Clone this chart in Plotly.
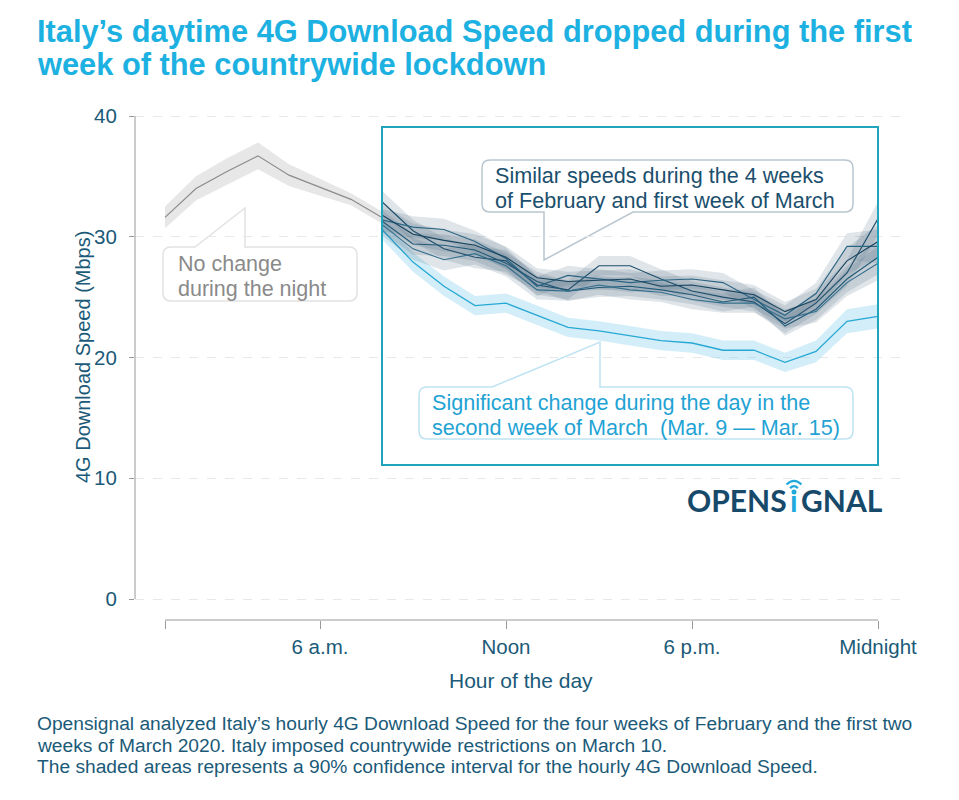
import plotly.graph_objects as go

# ---------------- data ----------------
hours_night = [1, 2, 3, 4, 5, 6, 7, 8]
night_speed = [31.6, 34.0, 35.4, 36.7, 35.1, 34.1, 33.1, 31.6]
night_ci = [0.9, 1.0, 1.1, 1.1, 0.9, 0.7, 0.5, 0.5]

hours_day = list(range(8, 25))
feb_w1 = [32.9, 30.5, 29.0, 28.3, 28.0, 26.0, 25.6, 27.6, 27.6, 26.5, 25.5, 25.0, 24.6, 22.8, 24.5, 27.0, 31.5]
feb_w2 = [31.4, 30.8, 30.6, 29.6, 28.2, 25.9, 26.8, 26.5, 26.2, 26.4, 26.5, 26.2, 24.8, 23.5, 25.3, 29.2, 29.2]
feb_w3 = [31.3, 29.4, 29.3, 28.9, 27.8, 26.3, 25.5, 25.8, 25.9, 25.6, 25.2, 24.6, 25.0, 22.6, 24.0, 26.5, 28.3]
feb_w4 = [31.0, 29.0, 28.1, 28.6, 27.6, 25.6, 25.5, 26.0, 25.6, 25.4, 24.8, 24.5, 24.5, 23.2, 23.8, 26.2, 27.8]
mar_w1 = [31.8, 30.2, 29.7, 29.3, 28.3, 26.6, 26.3, 26.4, 26.5, 25.9, 26.0, 25.6, 25.2, 23.8, 24.8, 28.0, 29.6]
dark_ci = [0.9, 0.9, 0.9, 0.9, 0.9, 0.8, 0.8, 0.8, 0.8, 0.8, 0.8, 0.8, 0.8, 0.8, 0.9, 1.1, 1.4]
mar_w2 = [30.6, 27.9, 25.9, 24.3, 24.5, 23.5, 22.5, 22.2, 21.8, 21.4, 21.2, 20.6, 20.6, 19.6, 20.5, 23.0, 23.4]
mar_w2_ci = [0.8, 0.8, 0.8, 0.8, 0.8, 0.8, 0.8, 0.8, 0.8, 0.8, 0.8, 0.8, 0.8, 0.8, 0.9, 1.0, 1.0]

x_tickvals = [1, 6, 12, 18, 24]
x_ticktext = ["", "6 a.m.", "Noon", "6 p.m.", "Midnight"]
y_tickvals = [0, 10, 20, 30, 40]

title_lines = ["Italy\u2019s daytime 4G Download Speed dropped during the first",
               "week of the countrywide lockdown"]
footer_lines = ["Opensignal analyzed Italy\u2019s hourly 4G Download Speed for the four weeks of February and the first two",
                "weeks of March 2020. Italy imposed countrywide restrictions on March 10.",
                "The shaded areas represents a 90% confidence interval for the hourly 4G Download Speed."]
note_night = ["No change", "during the night"]
note_similar = ["Similar speeds during the 4 weeks", "of February and first week of March"]
note_change = ["Significant change during the day in the", "second week of March  (Mar. 9 \u2014 Mar. 15)"]

# ---------------- styling / geometry ----------------
FONT = "Liberation Sans"
TEAL = "#1b5a78"
CYAN = "#1db1e2"
L, R, T, B = 135, 905, 114, 620
W, H = 959, 800
PX_PER_HR = 31.0
PX_PER_UNIT = 12.075


def X(px):
    return 1 + (px - 165) / PX_PER_HR


def Y(py):
    return (599 - py) / PX_PER_UNIT


def PX(px):  # paper x
    return (px - L) / (R - L)


def PY(py):  # paper y
    return (B - py) / (B - T)


def band(xs, ys, ci):
    up = [y + c for y, c in zip(ys, ci)]
    lo = [y - c for y, c in zip(ys, ci)]
    return xs + xs[::-1], up + lo[::-1]


fig = go.Figure()

# night (gray)
bx, by = band(hours_night, night_speed, night_ci)
fig.add_trace(go.Scatter(x=bx, y=by, fill="toself", mode="none",
                         fillcolor="rgba(160,160,160,0.25)", hoverinfo="skip", showlegend=False))
fig.add_trace(go.Scatter(x=hours_night, y=night_speed, mode="lines",
                         line=dict(color="#8c8c8c", width=1.2), showlegend=False))

# second week of March (light blue)
bx, by = band(hours_day, mar_w2, mar_w2_ci)
fig.add_trace(go.Scatter(x=bx, y=by, fill="toself", mode="none",
                         fillcolor="rgba(130,205,235,0.35)", hoverinfo="skip", showlegend=False))
fig.add_trace(go.Scatter(x=hours_day, y=mar_w2, mode="lines",
                         line=dict(color="#27a8d4", width=1.3), showlegend=False))

# similar weeks (dark)
dark_series = [feb_w1, feb_w2, feb_w3, feb_w4, mar_w1]
dark_colors = ["#1d4e6b", "#2b6584", "#225a78", "#336e8c", "#17435e"]
for s in dark_series:
    bx, by = band(hours_day, s, dark_ci)
    fig.add_trace(go.Scatter(x=bx, y=by, fill="toself", mode="none",
                             fillcolor="rgba(70,100,125,0.17)", hoverinfo="skip", showlegend=False))
for s, c in zip(dark_series, dark_colors):
    fig.add_trace(go.Scatter(x=hours_day, y=s, mode="lines",
                             line=dict(color=c, width=1.1), showlegend=False))


def callout(x0, y0, x1, y1, side, b0, b1, tip, r=8):
    P = lambda px, py: f"{X(px):.4f},{Y(py):.4f}"
    d = f"M{P(x0 + r, y0)}"
    if side == "top":
        d += f" L{P(b0, y0)} L{P(*tip)} L{P(b1, y0)}"
    d += f" L{P(x1 - r, y0)} Q{P(x1, y0)} {P(x1, y0 + r)}"
    d += f" L{P(x1, y1 - r)} Q{P(x1, y1)} {P(x1 - r, y1)}"
    if side == "bottom":
        d += f" L{P(b1, y1)} L{P(*tip)} L{P(b0, y1)}"
    d += f" L{P(x0 + r, y1)} Q{P(x0, y1)} {P(x0, y1 - r)}"
    d += f" L{P(x0, y0 + r)} Q{P(x0, y0)} {P(x0 + r, y0)} Z"
    return d


shapes = []
shapes.append(dict(type="path", xref="x", yref="y", layer="below",
                   path=callout(163, 247, 357, 301, "top", 195, 245, (245, 208)),
                   line=dict(color="#e2e2e2", width=1.5), fillcolor="white"))
shapes.append(dict(type="path", xref="x", yref="y", layer="below",
                   path=callout(482, 160, 853, 212, "bottom", 544, 633, (544, 260)),
                   line=dict(color="#b9c6cf", width=1.5), fillcolor="white"))
shapes.append(dict(type="path", xref="x", yref="y", layer="below",
                   path=callout(419, 387, 853, 439, "top", 492, 600, (600, 342)),
                   line=dict(color="#bfe3f2", width=1.5), fillcolor="white"))
# highlight box
shapes.append(dict(type="rect", xref="x", yref="y", x0=8, x1=24, y0=Y(465), y1=Y(127),
                   line=dict(color="#1ea5bb", width=2), layer="above"))
# axis lines
shapes.append(dict(type="line", xref="x", yref="paper", x0=1, x1=24, y0=0, y1=0,
                   line=dict(color="#999999", width=1)))
shapes.append(dict(type="line", xref="paper", yref="y", x0=0, x1=0, y0=0, y1=40,
                   line=dict(color="#999999", width=1)))

# logo wifi symbol over the "i"
cx, cy = 794, 492
shapes.append(dict(type="circle", xref="x", yref="y", x0=X(cx - 2.5), x1=X(cx + 2.5),
                   y0=Y(cy + 2.5), y1=Y(cy - 2.5), fillcolor="#22a9dc", line=dict(width=0)))
for rr in (5.5, 10.5):
    k = rr * 0.7071
    shapes.append(dict(type="path", xref="x", yref="y",
                       path=f"M{X(cx - k):.4f},{Y(cy - k):.4f} Q{X(cx):.4f},{Y(cy - rr * 1.414):.4f} {X(cx + k):.4f},{Y(cy - k):.4f}",
                       line=dict(color="#22a9dc", width=2.2)))

annotations = []


def text_line(txt, px, py, size, color, anchor="left", family=FONT, bold=False):
    annotations.append(dict(x=PX(px), y=PY(py), xref="paper", yref="paper", xanchor=anchor,
                            yanchor="middle", align=anchor if anchor != "center" else "center",
                            text=f"<b>{txt}</b>" if bold else txt, showarrow=False,
                            font=dict(family=family, size=size, color=color)))


# title
text_line(title_lines[0], 35, 31, 30.8, CYAN, bold=True)
text_line(title_lines[1], 35, 65, 30.8, CYAN, bold=True)
# callouts
for i, t in enumerate(note_night):
    text_line(t, 176, 264 + 25 * i, 21.5, "#8a8a8a")
for i, t in enumerate(note_similar):
    text_line(t, 493, 175 + 25 * i, 21.6, "#1b4f6d")
for i, t in enumerate(note_change):
    text_line(t, 430, 402 + 25 * i, 21.6, "#1fa3d4")
# footer
for i, t in enumerate(footer_lines):
    text_line(t, 35, 723 + 22 * i, 19.2, TEAL)
# logo
text_line("<b>OPENS</b>", 789, 500, 30, "#17496a", anchor="right", family="Lato")
text_line("<b>\u0131</b>", 794, 500, 30, "#22a9dc", anchor="center", family="Lato")
text_line("<b>GNAL</b>", 799, 500, 30, "#17496a", anchor="left", family="Lato")
# axis titles
text_line("Hour of the day", 521, 680, 21, TEAL, anchor="center")
annotations.append(dict(x=PX(83), y=Y(357), xref="paper", yref="y", xanchor="center", yanchor="middle",
                        text="4G Download Speed (Mbps)", textangle=-90, showarrow=False,
                        font=dict(family=FONT, size=20, color=TEAL)))

fig.update_layout(
    width=W, height=H,
    margin=dict(l=L, r=W - R, t=T, b=H - B, pad=0),
    plot_bgcolor="white", paper_bgcolor="white",
    xaxis=dict(range=[X(L), X(R)], tickvals=x_tickvals, ticktext=x_ticktext,
               ticks="outside", ticklen=8, tickcolor="#999999", showgrid=False, zeroline=False,
               showline=False, tickfont=dict(family=FONT, size=20.5, color=TEAL), ticklabelstandoff=0),
    yaxis=dict(range=[Y(B), Y(T)], tickvals=y_tickvals, ticks="outside", ticklen=5, tickcolor="#999999",
               showgrid=True, gridcolor="#e8e8e8", griddash="dash", zeroline=False, showline=False,
               tickfont=dict(family=FONT, size=20.5, color=TEAL), ticklabelstandoff=8),
    shapes=shapes, annotations=annotations, showlegend=False,
)

fig.write_html("out.html")
